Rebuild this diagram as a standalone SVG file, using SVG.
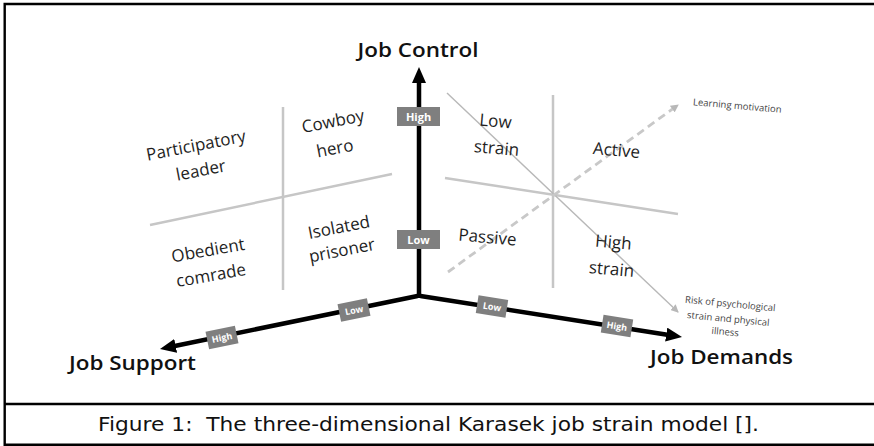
<svg xmlns="http://www.w3.org/2000/svg" width="874" height="446" viewBox="0 0 874 446">
<defs>
<style>
.frame{fill:none;stroke:#000;stroke-width:2.4}
.axis{fill:none;stroke:#000;stroke-width:4.5}
.div{fill:none;stroke:#c6c6c6;stroke-width:2.5}
.thin{fill:none;stroke:#b8b8b8;stroke-width:1.4}
.dash{fill:none;stroke:#c8c8c8;stroke-width:2.8;stroke-dasharray:8 5}
.q{font-family:"Open Sans","Noto Sans",sans-serif;font-size:17px;fill:#1e1e1e;text-anchor:middle}
.ax{font-family:"Open Sans","Noto Sans",sans-serif;font-size:19px;font-weight:600;fill:#111;text-anchor:middle}
.sm{font-family:"Open Sans","Noto Sans",sans-serif;font-size:9.5px;fill:#444;text-anchor:middle}
.box{fill:#7f7f7f}
.bt{font-family:"Open Sans","Noto Sans",sans-serif;font-weight:700;fill:#fff;text-anchor:middle}
.cap{font-family:"DejaVu Sans",Verdana,sans-serif;font-size:20px;fill:#111;white-space:pre}
</style>
<marker id="ah" viewBox="0 0 16 14" refX="1" refY="7" markerWidth="16" markerHeight="14" markerUnits="userSpaceOnUse" orient="auto">
<path d="M0,0 L16,7 L0,14 z" fill="#000"/>
</marker>
<marker id="ahg" viewBox="0 0 8 8" refX="7" refY="4" markerWidth="8" markerHeight="8" markerUnits="userSpaceOnUse" orient="auto">
<path d="M0,0 L8,4 L0,8 z" fill="#b8b8b8"/>
</marker>
</defs>
<rect width="874" height="446" fill="#fff"/>
<g id="frame">
<path class="frame" d="M4.7,446 V4 H874"/>
<line class="frame" x1="4.7" y1="404" x2="874" y2="404"/>
<line class="frame" x1="4.7" y1="444.8" x2="874" y2="444.8"/>
</g>
<g id="dividers">
<line class="div" x1="283" y1="107" x2="283" y2="290"/>
<line class="div" x1="150" y1="225" x2="392" y2="174"/>
<line class="div" x1="553" y1="95" x2="553" y2="288"/>
<line class="div" x1="445" y1="178" x2="678" y2="214"/>
</g>
<g id="connectors">
<line class="thin" x1="447" y1="93" x2="678" y2="312" marker-end="url(#ahg)"/>
<line class="dash" x1="448" y1="272" x2="678" y2="105" marker-end="url(#ahg)"/>
<line class="axis" x1="419" y1="298" x2="419" y2="82" marker-end="url(#ah)"/>
<polyline class="axis" points="417.5,296 174.7,346" marker-end="url(#ah)"/>
<polyline class="axis" points="420.5,296 667.2,334.7" marker-end="url(#ah)"/>
</g>
<g id="axis-labels">
<text id="job-control" class="ax" x="418" y="57" textLength="121" lengthAdjust="spacingAndGlyphs">Job Control</text>
<text id="job-support" class="ax" x="132.5" y="370" textLength="127" lengthAdjust="spacingAndGlyphs">Job Support</text>
<text id="job-demands" class="ax" x="721.5" y="364" textLength="143" lengthAdjust="spacingAndGlyphs">Job Demands</text>
</g>
<g id="control-high" transform="translate(418.5,116.5)"><rect class="box" x="-21.5" y="-9.5" width="43" height="19"/><text class="bt" y="4" font-size="11">High</text></g>
<g id="control-low" transform="translate(418.5,239.5)"><rect class="box" x="-21.5" y="-9.5" width="43" height="19"/><text class="bt" y="4" font-size="11">Low</text></g>
<g id="support-low" transform="translate(354,310) rotate(-11.6)"><rect class="box" x="-15" y="-9" width="30" height="18"/><text class="bt" y="3.5" font-size="9">Low</text></g>
<g id="support-high" transform="translate(222,337.5) rotate(-11.6)"><rect class="box" x="-15" y="-9" width="30" height="18"/><text class="bt" y="3.5" font-size="9">High</text></g>
<g id="demands-low" transform="translate(492,306.5) rotate(8.9)"><rect class="box" x="-15" y="-9" width="30" height="18"/><text class="bt" y="3.5" font-size="9">Low</text></g>
<g id="demands-high" transform="translate(617,326) rotate(8.9)"><rect class="box" x="-15" y="-9" width="30" height="18"/><text class="bt" y="3.5" font-size="9">High</text></g>
<g id="participatory-leader">
<text class="q" x="197" y="151" transform="rotate(-11 197 151)">Participatory</text>
<text class="q" x="202" y="176" transform="rotate(-11 202 176)">leader</text>
</g>
<g id="cowboy-hero">
<text class="q" x="334" y="127" transform="rotate(-11 334 127)">Cowboy</text>
<text class="q" x="336" y="154" transform="rotate(-11 336 154)">hero</text>
</g>
<g id="obedient-comrade">
<text class="q" x="209" y="256" transform="rotate(-10 209 256)">Obedient</text>
<text class="q" x="212" y="281" transform="rotate(-10 212 281)">comrade</text>
</g>
<g id="isolated-prisoner">
<text class="q" x="340" y="233" transform="rotate(-11 340 233)">Isolated</text>
<text class="q" x="343" y="256" transform="rotate(-11 343 256)">prisoner</text>
</g>
<g id="low-strain">
<text class="q" x="495" y="127" transform="rotate(5 495 127)">Low</text>
<text class="q" x="496" y="154" transform="rotate(5 496 154)">strain</text>
</g>
<g id="active">
<text class="q" x="616" y="156" transform="rotate(5 616 156)">Active</text>
</g>
<g id="passive">
<text class="q" x="487" y="243" transform="rotate(5 487 243)">Passive</text>
</g>
<g id="high-strain">
<text class="q" x="613" y="248" transform="rotate(5 613 248)">High</text>
<text class="q" x="611" y="275" transform="rotate(5 611 275)">strain</text>
</g>
<g id="learning-motivation">
<text class="sm" x="737" y="109" transform="rotate(5 737 109)">Learning motivation</text>
</g>
<g id="risk">
<text class="sm" x="730" y="307" transform="rotate(5.5 730 307)">Risk of psychological</text>
<text class="sm" x="728" y="322" transform="rotate(5.5 728 322)">strain and physical</text>
<text class="sm" x="725" y="335" transform="rotate(5.5 725 335)">illness</text>
</g>
<g id="caption">
<text class="cap" x="98" y="431" textLength="661" lengthAdjust="spacingAndGlyphs">Figure 1:  The three-dimensional Karasek job strain model [].</text>
</g>
</svg>
